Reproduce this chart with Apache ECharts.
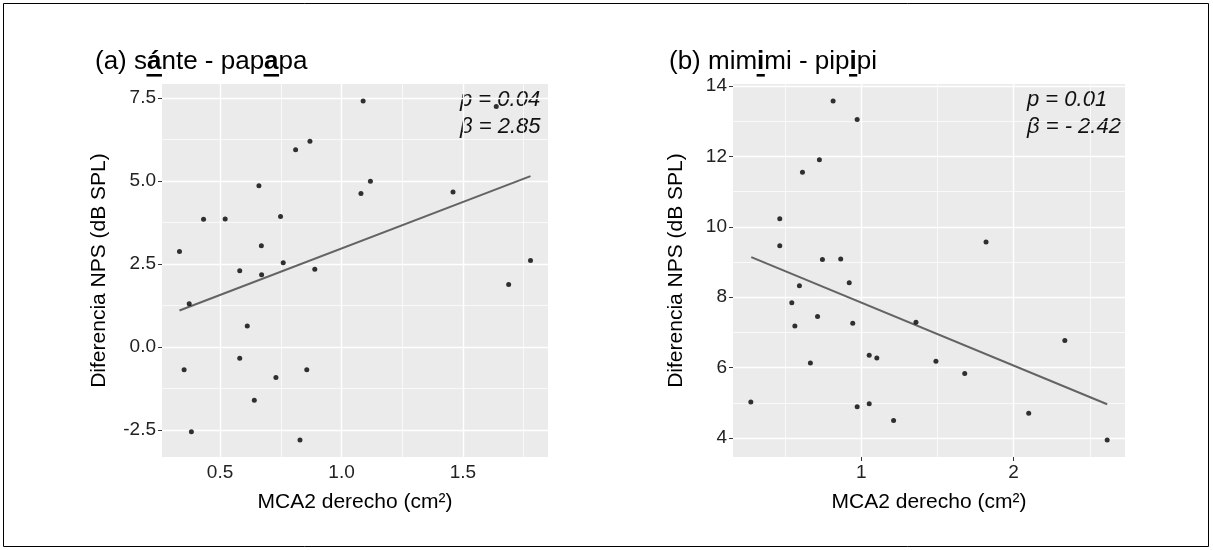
<!DOCTYPE html>
<html>
<head>
<meta charset="utf-8">
<script src="https://cdn.jsdelivr.net/npm/echarts@6/dist/echarts.min.js"></script>
<style>
  html, body { margin: 0; padding: 0; background: #ffffff; }
  #chart { width: 1213px; height: 550px; }
</style>
</head>
<body>
<div id="chart"></div>
<script>
// ---- Panel (a): sánte - papapa ----
const aX = [1.089, 0.870, 0.811, 1.119, 0.660, 1.080, 1.459, 0.432, 0.521, 0.749,
            0.670, 0.333, 1.778, 0.581, 0.760, 0.671, 0.890, 1.688, 0.373, 0.612,
            0.581, 0.352, 0.857, 0.730, 0.641, 0.382, 0.829, 1.637];
const aY = [7.42, 6.20, 5.95, 5.00, 4.86, 4.63, 4.67, 3.85, 3.86, 3.93,
            3.05, 2.88, 2.61, 2.30, 2.54, 2.18, 2.34, 1.88, 1.30, 0.63,
            -0.34, -0.69, -0.69, -0.92, -1.61, -2.56, -2.81, 7.25];
const aFitX = [0.333, 1.778];
const aFitY = [1.10, 5.15];
const aStats = ['p = 0.04', 'β = 2.85'];
const aXTicks = [0.5, 1.0, 1.5];
const aXMinor = [0.75, 1.25, 1.75];
const aYTicks = [-2.5, 0.0, 2.5, 5.0, 7.5];
const aYMinor = [-1.25, 1.25, 3.75, 6.25];
const aXRange = [0.261, 1.850];
const aYRange = [-3.32, 7.93];

// ---- Panel (b): mimimi - pipipi ----
const bX = [0.815, 0.973, 0.725, 0.614, 0.465, 0.465, 0.745, 0.865, 1.819, 0.594,
            0.921, 0.544, 0.564, 0.713, 0.944, 1.359, 2.336, 0.666, 1.052, 1.102,
            1.490, 1.679, 0.275, 0.973, 1.052, 1.212, 2.099, 2.614];
const bY = [13.58, 13.05, 11.91, 11.55, 10.23, 9.46, 9.07, 9.09, 9.57, 8.33,
            8.41, 7.84, 7.18, 7.45, 7.26, 7.29, 6.77, 6.13, 6.35, 6.27,
            6.18, 5.83, 5.02, 4.89, 4.97, 4.50, 4.70, 3.94];
const bFitX = [0.278, 2.614];
const bFitY = [9.14, 4.96];
const bStats = ['p = 0.01', 'β = - 2.42'];
const bXTicks = [1, 2];
const bXMinor = [0.5, 1.5, 2.5];
const bYTicks = [4, 6, 8, 10, 12, 14];
const bYMinor = [5, 7, 9, 11, 13];
const bXRange = [0.158, 2.731];
const bYRange = [3.46, 14.06];

const xTitle = 'MCA2 derecho (cm²)';
const yTitle = 'Diferencia NPS (dB SPL)';

const FONT = '"Liberation Sans", Arial, sans-serif';
const PANEL_BG = '#EBEBEB';

const grids = [
  { left: 162, top: 84, width: 386, height: 373 },
  { left: 733, top: 84, width: 392, height: 373 }
];

function zip(xs, ys) { return xs.map((x, i) => [x, ys[i]]); }

function xAxisFor(idx, range, ticks, fmt, nameGap) {
  return {
    type: 'value', gridIndex: idx, min: range[0], max: range[1],
    name: xTitle, nameLocation: 'middle', nameGap: nameGap,
    nameTextStyle: { fontFamily: FONT, fontSize: 21, color: '#000' },
    axisLine: { show: false },
    axisTick: { show: true, length: 4, customValues: ticks, lineStyle: { color: '#333', width: 1 } },
    axisLabel: { customValues: ticks, margin: 6, fontFamily: FONT, fontSize: 19, color: '#222', formatter: fmt },
    splitLine: { show: false }
  };
}
function yAxisFor(idx, range, ticks, fmt, nameGap) {
  return {
    type: 'value', gridIndex: idx, min: range[0], max: range[1],
    name: yTitle, nameLocation: 'middle', nameRotate: 90, nameGap: nameGap,
    nameTextStyle: { fontFamily: FONT, fontSize: 21, color: '#000' },
    axisLine: { show: false },
    axisTick: { show: true, length: 4, customValues: ticks, lineStyle: { color: '#333', width: 1 } },
    axisLabel: { customValues: ticks, margin: 6, fontFamily: FONT, fontSize: 19, color: '#222', formatter: fmt },
    splitLine: { show: false }
  };
}

// White panel grid lines (major + minor) drawn through the axes' own scales
function gridSeries(idx, xMaj, xMin, yMaj, yMin) {
  const lines = [];
  xMin.forEach(v => lines.push({ xAxis: v, lineStyle: { width: 0.7 } }));
  yMin.forEach(v => lines.push({ yAxis: v, lineStyle: { width: 0.7 } }));
  xMaj.forEach(v => lines.push({ xAxis: v, lineStyle: { width: 1.4 } }));
  yMaj.forEach(v => lines.push({ yAxis: v, lineStyle: { width: 1.4 } }));
  return {
    type: 'line', xAxisIndex: idx, yAxisIndex: idx, data: [], silent: true,
    markLine: {
      silent: true, symbol: ['none', 'none'], z: 1, animation: false,
      label: { show: false },
      lineStyle: { color: '#FFFFFF', type: 'solid' },
      emphasis: { disabled: true },
      data: lines
    }
  };
}

function fitSeries(idx, xs, ys) {
  return {
    type: 'line', xAxisIndex: idx, yAxisIndex: idx, z: 3,
    data: zip(xs, ys), showSymbol: false, symbol: 'none', silent: true,
    lineStyle: { color: '#636363', width: 2 }
  };
}
function pointSeries(idx, xs, ys) {
  return {
    type: 'scatter', xAxisIndex: idx, yAxisIndex: idx, z: 4,
    data: zip(xs, ys), symbolSize: 5, silent: true,
    itemStyle: { color: '#000000' }
  };
}

// Panel titles with bold, underlined stressed vowels (laid out by measured widths)
const measureCtx = document.createElement('canvas').getContext('2d');
function titleElements(parts, x0, yMid) {
  const els = [];
  let x = x0;
  parts.forEach(p => {
    const font = (p.b ? 'bold ' : '') + '26px ' + FONT;
    measureCtx.font = font;
    const w = measureCtx.measureText(p.t).width;
    els.push({
      type: 'text', x: x, y: yMid, silent: true,
      style: { text: p.t, font: font, fill: '#000', textAlign: 'left', textVerticalAlign: 'middle' }
    });
    if (p.b) {
      els.push({
        type: 'rect', silent: true,
        shape: { x: x - 0.5, y: yMid + 12, width: w + 1, height: 2.6 },
        style: { fill: '#000' }
      });
    }
    x += w;
  });
  return els;
}
function statElements(lines, x, y0) {
  return lines.map((t, i) => ({
    type: 'text', x: x, y: y0 + i * 27, silent: true,
    style: { text: t, font: 'italic 22px ' + FONT, fill: '#111', textAlign: 'left', textVerticalAlign: 'middle' }
  }));
}

const graphics = [].concat(
  [{
    type: 'rect', silent: true,
    shape: { x: 3.5, y: 3.5, width: 1205, height: 543 },
    style: { fill: 'none', stroke: '#000', lineWidth: 1 }
  }],
  titleElements([{ t: '(a) s' }, { t: 'á', b: true }, { t: 'nte - pap' }, { t: 'a', b: true }, { t: 'pa' }], 95, 62),
  titleElements([{ t: '(b) mim' }, { t: 'i', b: true }, { t: 'mi - pip' }, { t: 'i', b: true }, { t: 'pi' }], 669, 62),
  statElements(aStats, 460, 100),
  statElements(bStats, 1027, 100)
);

const one = v => v.toFixed(1);
const int = v => String(Math.round(v));

const chart = echarts.init(document.getElementById('chart'), null, { renderer: 'canvas' });
chart.setOption({
  animation: false,
  backgroundColor: '#ffffff',
  grid: grids.map(g => Object.assign({ show: true, backgroundColor: PANEL_BG, borderWidth: 0, containLabel: false }, g)),
  xAxis: [xAxisFor(0, aXRange, aXTicks, one, 35), xAxisFor(1, bXRange, bXTicks, int, 35)],
  yAxis: [yAxisFor(0, aYRange, aYTicks, one, 52), yAxisFor(1, bYRange, bYTicks, int, 46)],
  series: [
    gridSeries(0, aXTicks, aXMinor, aYTicks, aYMinor),
    gridSeries(1, bXTicks, bXMinor, bYTicks, bYMinor),
    fitSeries(0, aFitX, aFitY),
    fitSeries(1, bFitX, bFitY),
    pointSeries(0, aX, aY),
    pointSeries(1, bX, bY)
  ],
  graphic: graphics
});
</script>
</body>
</html>
